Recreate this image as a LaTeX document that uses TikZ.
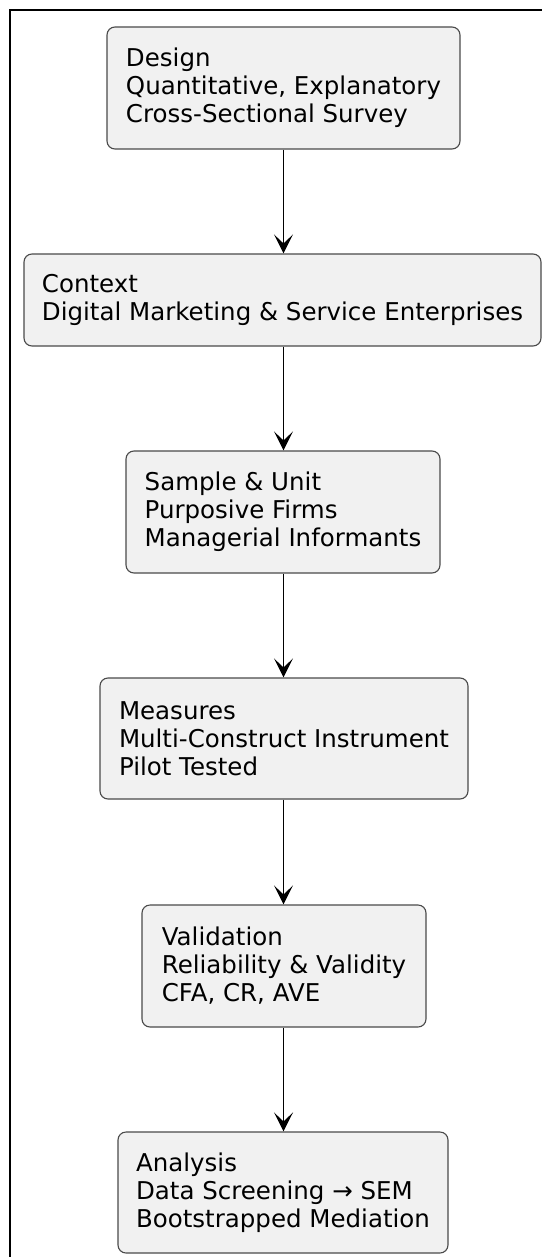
\documentclass[tikz,border=0pt]{standalone}
\usepackage{fontspec}
\setmainfont{DejaVu Sans}
\usetikzlibrary{arrows.meta}
\definecolor{boxfill}{HTML}{F1F1F1}
\definecolor{boxline}{HTML}{4A4A4A}
\tikzset{
  stepbox/.style={draw=boxline, fill=boxfill, line width=1.1pt, rounded corners=8pt,
    inner sep=0pt, align=left, font=\fontsize{24.5}{28}\selectfont, anchor=center},
  flow/.style={line width=1.2pt, -{Stealth[length=19pt,width=19pt,inset=9pt,line width=1.4pt]}}
}
\begin{document}
\begin{tikzpicture}[x=1pt,y=-1pt]
\useasboundingbox (0,0) rectangle (542,1257);
\draw[line width=1.8pt] (10,1257) -- (10,10) -- (542,10);
\node[stepbox, minimum width=353pt, minimum height=122pt] (design) at (283.5,88)
  {Design\\Quantitative, Explanatory\\Cross-Sectional Survey};
\node[stepbox, minimum width=517pt, minimum height=92pt] (context) at (282.5,300)
  {Context\\Digital Marketing \& Service Enterprises};
\node[stepbox, minimum width=314pt, minimum height=122pt] (sample) at (283,512)
  {Sample \& Unit\\Purposive Firms\\Managerial Informants};
\node[stepbox, minimum width=368pt, minimum height=121pt] (measures) at (284,738.5)
  {Measures\\Multi-Construct Instrument\\Pilot Tested};
\node[stepbox, minimum width=284pt, minimum height=122pt] (validation) at (284,966)
  {Validation\\Reliability \& Validity\\CFA, CR, AVE};
\node[stepbox, minimum width=330pt, minimum height=121pt] (analysis) at (283,1192.5)
  {Analysis\\Data Screening → SEM\\Bootstrapped Mediation};
\draw[flow] (design.south) -- (design.south |- context.north);
\draw[flow] (design.south |- context.south) -- (design.south |- sample.north);
\draw[flow] (design.south |- sample.south) -- (design.south |- measures.north);
\draw[flow] (design.south |- measures.south) -- (design.south |- validation.north);
\draw[flow] (design.south |- validation.south) -- (design.south |- analysis.north);
\end{tikzpicture}
\end{document}
